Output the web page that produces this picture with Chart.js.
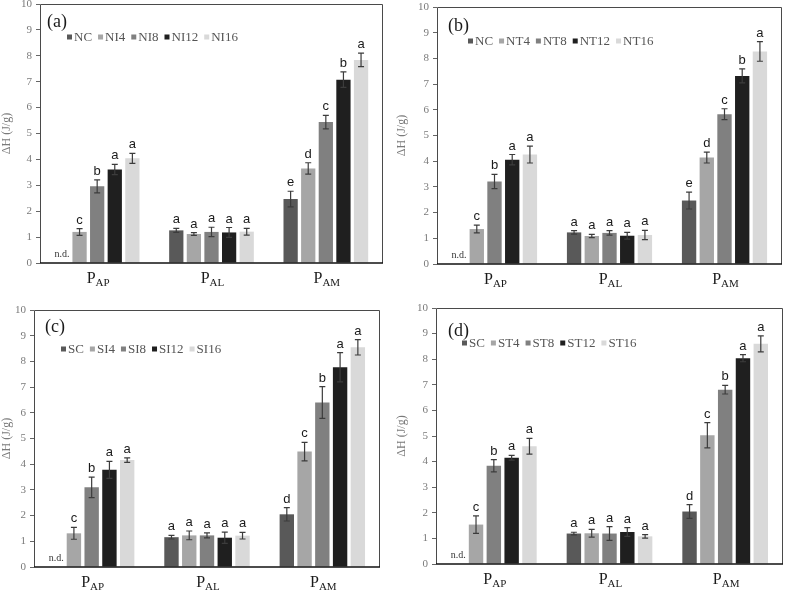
<!DOCTYPE html>
<html lang="en">
<head>
<meta charset="UTF-8">
<title>Enthalpy of fractions</title>
<script src="https://cdn.jsdelivr.net/npm/chart.js"></script>
<style>
    body { margin: 0; background: #fff; }
    #wrap { position: relative; width: 787px; height: 591px; overflow: hidden; }
    canvas { position: absolute; }
</style>
</head>
<body>
<div id="wrap">
    <canvas id="panelA"></canvas>
    <canvas id="panelB"></canvas>
    <canvas id="panelC"></canvas>
    <canvas id="panelD"></canvas>
</div>
<script>
// x categories are "P" with a subscript
const categoryMain = 'P';
const categorySubs = ['AP', 'AL', 'AM'];
const yTicks = [0, 10, 1]; // min, max, step
const barColors = ['#595959', '#a6a6a6', '#808080', '#1f1f1f', '#d9d9d9'];

// (a)
const aSeries = ['NC', 'NI4', 'NI8', 'NI12', 'NI16'];
const aValues = [[null, 1.26, 2.47], [1.20, 1.12, 3.65], [2.96, 1.20, 5.44], [3.61, 1.18, 7.08], [4.04, 1.21, 7.84]];
const aErrors = [[null, 0.08, 0.30], [0.13, 0.05, 0.22], [0.25, 0.18, 0.26], [0.20, 0.19, 0.30], [0.19, 0.13, 0.26]];
const aLetters = [['', 'a', 'e'], ['c', 'a', 'd'], ['b', 'a', 'c'], ['a', 'a', 'b'], ['a', 'a', 'a']];

// (b)
const bSeries = ['NC', 'NT4', 'NT8', 'NT12', 'NT16'];
const bValues = [[null, 1.23, 2.47], [1.36, 1.09, 4.14], [3.21, 1.21, 5.83], [4.06, 1.10, 7.32], [4.26, 1.13, 8.27]];
const bErrors = [[null, 0.07, 0.33], [0.15, 0.06, 0.21], [0.28, 0.09, 0.21], [0.20, 0.13, 0.27], [0.33, 0.18, 0.38]];
const bLetters = [['', 'a', 'e'], ['c', 'a', 'd'], ['b', 'a', 'c'], ['a', 'a', 'b'], ['a', 'a', 'a']];

// (c)
const cSeries = ['SC', 'SI4', 'SI8', 'SI12', 'SI16'];
const cValues = [[null, 1.16, 2.05], [1.31, 1.23, 4.49], [3.10, 1.23, 6.40], [3.78, 1.14, 7.77], [4.16, 1.22, 8.55]];
const cErrors = [[null, 0.07, 0.26], [0.23, 0.17, 0.36], [0.40, 0.10, 0.62], [0.33, 0.22, 0.57], [0.09, 0.13, 0.30]];
const cLetters = [['', 'a', 'd'], ['c', 'a', 'c'], ['b', 'a', 'b'], ['a', 'a', 'a'], ['a', 'a', 'a']];

// (d)
const dSeries = ['SC', 'ST4', 'ST8', 'ST12', 'ST16'];
const dValues = [[null, 1.19, 2.05], [1.54, 1.20, 5.03], [3.84, 1.19, 6.81], [4.15, 1.25, 8.04], [4.60, 1.08, 8.60]];
const dErrors = [[null, 0.05, 0.27], [0.34, 0.15, 0.49], [0.24, 0.27, 0.17], [0.09, 0.17, 0.14], [0.31, 0.07, 0.31]];
const dLetters = [['', 'a', 'd'], ['c', 'a', 'c'], ['b', 'a', 'b'], ['a', 'a', 'a'], ['a', 'a', 'a']];

const SERIF = '"Liberation Serif", "Times New Roman", serif';
const SANS = '"Liberation Sans", Arial, sans-serif';

// draws frame, error bars, letters, n.d., category labels, tag and legend
const decor = {
    id: 'decor',
    afterDatasetsDraw(chart, args, opts) {
        const { ctx, chartArea: ca } = chart;
        const y = chart.scales.y, x = chart.scales.x;
        const p = opts.panel;
        ctx.save();

        // frame
        ctx.strokeStyle = '#4a4a4a';
        ctx.lineWidth = 1;
        ctx.beginPath();
        ctx.moveTo(ca.left + 0.5, ca.bottom);
        ctx.lineTo(ca.left + 0.5, ca.top + 0.5);
        ctx.lineTo(ca.right - 0.5, ca.top + 0.5);
        ctx.lineTo(ca.right - 0.5, ca.bottom);
        ctx.stroke();
        ctx.strokeStyle = '#111';
        ctx.lineWidth = 1.6;
        ctx.beginPath();
        ctx.moveTo(ca.left, ca.bottom);
        ctx.lineTo(ca.right, ca.bottom);
        ctx.stroke();

        // error bars + letters
        p.values.forEach((row, d) => {
            const meta = chart.getDatasetMeta(d);
            row.forEach((v, i) => {
                const bx = meta.data[i].x;
                if (v === null) {
                    ctx.font = '10px ' + SERIF;
                    ctx.fillStyle = '#333';
                    ctx.textAlign = 'center';
                    ctx.textBaseline = 'alphabetic';
                    ctx.fillText('n.d.', bx, ca.bottom - 6);
                    return;
                }
                const e = p.errors[d][i];
                const yt = y.getPixelForValue(v + e);
                const yb = y.getPixelForValue(v - e);
                ctx.strokeStyle = '#3c3c3c';
                ctx.lineWidth = 1.2;
                ctx.beginPath();
                ctx.moveTo(bx, yt); ctx.lineTo(bx, yb);
                ctx.moveTo(bx - 3, yt); ctx.lineTo(bx + 3, yt);
                ctx.moveTo(bx - 3, yb); ctx.lineTo(bx + 3, yb);
                ctx.stroke();
                ctx.font = '13px ' + SANS;
                ctx.fillStyle = '#1a1a1a';
                ctx.textAlign = 'center';
                ctx.textBaseline = 'alphabetic';
                ctx.fillText(p.letters[d][i], bx, yt - 5);
            });
        });

        // category labels P with subscript
        ctx.fillStyle = '#1a1a1a';
        ctx.textBaseline = 'alphabetic';
        ctx.textAlign = 'left';
        categorySubs.forEach((sub, i) => {
            const cx = x.getPixelForValue(i);
            ctx.font = '16px ' + SERIF;
            const w1 = ctx.measureText(categoryMain).width;
            ctx.font = '11px ' + SERIF;
            const w2 = ctx.measureText(sub).width;
            const sx = cx - (w1 + w2) / 2 + 1;
            ctx.font = '16px ' + SERIF;
            ctx.fillText(categoryMain, sx, ca.bottom + 20);
            ctx.font = '11px ' + SERIF;
            ctx.fillText(sub, sx + w1, ca.bottom + 23);
        });

        // panel tag
        ctx.font = '18px ' + SERIF;
        ctx.fillStyle = '#1a1a1a';
        ctx.textBaseline = 'middle';
        ctx.fillText(p.tag, ca.left + p.tagX, ca.top + p.tagY);

        // legend
        ctx.font = '13px ' + SERIF;
        let lx = ca.left + p.legX;
        const ly = ca.top + p.legY;
        p.series.forEach((name, d) => {
            ctx.fillStyle = barColors[d];
            ctx.fillRect(lx, ly - 2.5, 5, 5);
            lx += 7;
            ctx.fillStyle = '#555';
            ctx.fillText(name, lx, ly + 0.5);
            lx += ctx.measureText(name).width + 6;
        });
        ctx.restore();
    }
};

function makePanel(id, box, panel) {
    const el = document.getElementById(id);
    el.width = box.w;
    el.height = box.h;
    el.style.left = box.x + 'px';
    el.style.top = box.y + 'px';

    new Chart(el, {
        type: 'bar',
        data: {
            labels: categorySubs.map(s => categoryMain + s),
            datasets: panel.series.map((name, d) => ({
                label: name,
                data: panel.values[d],
                backgroundColor: barColors[d],
                borderWidth: 0,
                categoryPercentage: 0.77,
                barPercentage: 0.81
            }))
        },
        options: {
            responsive: false,
            animation: false,
            devicePixelRatio: 1,
            layout: { padding: { top: box.padTop, right: box.padRight, left: 0, bottom: 0 } },
            scales: {
                x: {
                    grid: { display: false },
                    border: { display: false },
                    ticks: { display: false },
                    afterFit: s => { s.height = box.xH; s.paddingLeft = 0; s.paddingRight = 0; }
                },
                y: {
                    min: yTicks[0],
                    max: yTicks[1],
                    ticks: { stepSize: yTicks[2], color: '#7a7a7a', font: { family: SERIF, size: 11 }, padding: 4 },
                    grid: { drawOnChartArea: false, drawTicks: true, tickLength: 4, color: '#666' },
                    border: { display: false },
                    title: { display: true, text: 'ΔH (J/g)', color: '#7a7a7a', font: { family: SERIF, size: 12 }, padding: 0 },
                    afterFit: s => { s.width = box.yW; s.paddingTop = 0; s.paddingBottom = 0; }
                }
            },
            plugins: {
                legend: { display: false },
                tooltip: { enabled: false },
                decor: { panel }
            }
        },
        plugins: [decor]
    });
}

makePanel('panelA', { x: 0, y: 0, w: 393, h: 295, yW: 40, padTop: 4, padRight: 10, xH: 32 },
    { series: aSeries, values: aValues, errors: aErrors, letters: aLetters, tag: '(a)', tagX: 7, tagY: 18, legX: 27, legY: 33 });
makePanel('panelB', { x: 395, y: 0, w: 392, h: 295, yW: 42, padTop: 7, padRight: 5, xH: 31 },
    { series: bSeries, values: bValues, errors: bErrors, letters: bLetters, tag: '(b)', tagX: 11, tagY: 19, legX: 31, legY: 34 });
makePanel('panelC', { x: 0, y: 295, w: 393, h: 296, yW: 34, padTop: 15, padRight: 13, xH: 24 },
    { series: cSeries, values: cValues, errors: cErrors, letters: cLetters, tag: '(c)', tagX: 11, tagY: 17, legX: 27, legY: 39 });
makePanel('panelD', { x: 395, y: 295, w: 392, h: 296, yW: 41, padTop: 13, padRight: 4, xH: 27 },
    { series: dSeries, values: dValues, errors: dErrors, letters: dLetters, tag: '(d)', tagX: 12, tagY: 23, legX: 26, legY: 35 });
</script>
</body>
</html>
